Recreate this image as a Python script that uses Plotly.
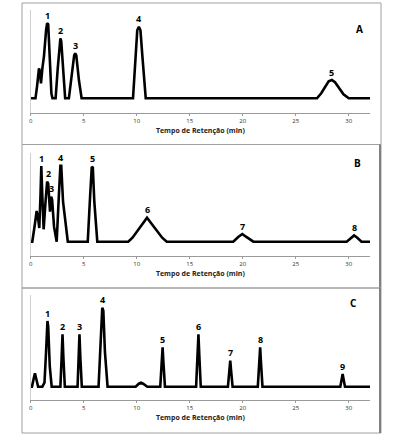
import plotly.graph_objects as go

# ---------------- data (retention time in min, signal in arbitrary units) -------------
a_time = [0, 0.45, 0.6, 0.78, 0.86, 0.97, 1.1, 1.25, 1.45, 1.55, 1.65, 1.8, 1.95, 2.05,
          2.35, 2.55, 2.72, 2.8, 2.88, 3.05, 3.25,
          3.6, 3.85, 4.1, 4.2, 4.3, 4.55, 4.8,
          9.65, 9.85, 10.05, 10.2, 10.35, 10.55, 10.85,
          27.0, 27.4, 28.1, 28.4, 28.7, 29.2, 29.5, 30.0, 32.0]
a_signal = [0, 0, 12, 30, 27, 15, 30, 42, 68, 75, 74, 40, 5, 0,
            0, 30, 58, 60, 57, 28, 0,
            0, 20, 43, 45, 43, 18, 0,
            0, 40, 68, 71.6, 68, 40, 0,
            0, 5, 17, 18.3, 16, 8, 4, 0, 0]
a_peaks_rt = [1.6, 2.8, 4.2, 10.2, 28.4]
a_peaks_h = [75, 60, 45, 71.6, 18.3]
a_labels = ["1", "2", "3", "4", "5"]

b_time = [0, 0.15, 0.4, 0.56, 0.68, 0.81, 0.92, 1.0, 1.1, 1.22, 1.4, 1.55, 1.65, 1.82, 1.93, 2.02,
          2.2, 2.45, 2.65, 2.8, 2.88, 3.05, 3.5, 5.38, 5.6, 5.76, 5.86, 6.0, 6.28,
          9.2, 9.6, 10.5, 10.97, 11.4, 12.4, 12.83, 19.1, 19.6, 19.96, 20.3, 21.0,
          29.8, 30.2, 30.5, 30.8, 31.2, 32.0]
b_signal = [0, 0, 18, 30.7, 25, 13.7, 45, 75.7, 45, 12.4, 40, 60, 58, 30, 45, 42,
            15, 0, 45, 76, 76, 40, 0, 0, 45, 75, 74, 40, 0,
            0, 4, 17, 24, 18, 4, 0, 0, 5, 7.7, 5, 0,
            0, 4, 6.3, 4, 0, 0]
b_peaks_rt = [1.0, 1.65, 2.0, 2.84, 5.81, 10.97, 19.96, 30.5]
b_peaks_h = [75.7, 60, 45, 76.7, 75, 24, 7.7, 6.3]
b_labels = ["1", "2", "3", "4", "5", "6", "7", "8"]

c_time = [0, 0.12, 0.3, 0.4, 0.5, 0.7, 1.1, 1.3, 1.45, 1.58, 1.65, 1.8, 1.98, 2.8, 2.92, 3.0, 3.08, 3.22,
          4.42, 4.54, 4.6, 4.68, 4.82, 6.4, 6.6, 6.75, 6.85, 7.0, 7.25,
          9.9, 10.2, 10.4, 10.6, 11.0, 12.22, 12.36, 12.44, 12.52, 12.66,
          15.6, 15.74, 15.82, 15.9, 16.04, 18.6, 18.74, 18.82, 18.9, 19.04,
          21.42, 21.56, 21.64, 21.72, 21.86, 29.2, 29.34, 29.42, 29.5, 29.64, 32.0]
c_signal = [0, 0, 9, 13.3, 9, 0, 0, 4, 35, 65.7, 60, 20, 0, 0, 30, 52.3, 30, 0,
            0, 30, 52.3, 30, 0, 0, 45, 79, 76, 35, 0,
            0, 3, 4, 3, 0, 0, 24, 39.3, 24, 0,
            0, 32, 52.3, 32, 0, 0, 16, 26, 16, 0,
            0, 24, 39.3, 24, 0, 0, 8, 12.7, 8, 0, 0]
c_peaks_rt = [1.6, 3.0, 4.6, 6.8, 12.44, 15.82, 18.82, 21.64, 29.42]
c_peaks_h = [65.7, 52.3, 52.3, 79, 39.3, 52.3, 26, 39.3, 12.7]
c_labels = ["1", "2", "3", "4", "5", "6", "7", "8", "9"]

panel_names = ["A", "B", "C"]
x_ticks = [0, 5, 10, 15, 20, 25, 30]
x_title = "Tempo de Retenção (min)"

# ---------------- layout helpers ----------------
W, H = 393, 437
def px(x):
    return x / W
def py(y):
    return 1 - y / H

fig = go.Figure()

panels = [
    dict(t=a_time, s=a_signal, rt=a_peaks_rt, h=a_peaks_h, lab=a_labels,
         top=10, bot=113, base=98.3, box=(22, 3, 381, 144.5), name_pos=(365, 20)),
    dict(t=b_time, s=b_signal, rt=b_peaks_rt, h=b_peaks_h, lab=b_labels,
         top=152.7, bot=256, base=241.7, box=(22, 144.5, 381, 288), name_pos=(363, 163)),
    dict(t=c_time, s=c_signal, rt=c_peaks_rt, h=c_peaks_h, lab=c_labels,
         top=295, bot=400, base=386.7, box=(22, 288, 381, 433), name_pos=(359, 312)),
]

x_left, x_right = 30.7, 370.0
annotations = []
shapes = []
for i, p in enumerate(panels):
    n = "" if i == 0 else str(i + 1)
    xa, ya = "x" + n, "y" + n
    fig.add_trace(go.Scatter(x=p["t"], y=p["s"], mode="lines",
                             line=dict(color="black", width=2.6, shape="linear"),
                             xaxis=xa, yaxis=ya, showlegend=False, hoverinfo="skip"))
    ymin = -(p["bot"] - p["base"])
    ymax = p["base"] - p["top"]
    fig.layout["xaxis" + n] = dict(
        domain=[px(x_left), px(x_right)], range=[0, 32], anchor=ya, automargin=False,
        tickvals=x_ticks, ticktext=[str(v) for v in x_ticks],
        showline=True, linecolor="#9a9a9a", linewidth=1,
        ticks="outside", ticklen=2, tickcolor="#9a9a9a",
        showgrid=False, zeroline=False,
        tickfont=dict(family="Open Sans", size=6, color="#333333"),
        title=dict(text="<b>" + x_title + "</b>", standoff=3,
                   font=dict(family="Open Sans", size=7, color="#222222")),
    )
    fig.layout["yaxis" + n] = dict(
        domain=[py(p["bot"]), py(p["top"])], range=[ymin, ymax], anchor=xa, automargin=False,
        showline=True, linecolor="#d0d0d0", linewidth=1,
        showticklabels=False, ticks="", showgrid=False, zeroline=False,
    )
    for rt, h, lab in zip(p["rt"], p["h"], p["lab"]):
        annotations.append(dict(x=rt, y=h, xref=xa, yref=ya, text="<b>" + lab + "</b>",
                                showarrow=False, yshift=8,
                                font=dict(family="Open Sans", size=9, color="black")))
    annotations.append(dict(x=px(p["name_pos"][0]), y=py(p["name_pos"][1]), xref="paper", yref="paper",
                            text="<b>" + panel_names[i] + "</b>", showarrow=False,
                            font=dict(family="Open Sans", size=10, color="black")))
    x0, y0, x1, y1 = p["box"]
    shapes.append(dict(type="rect", xref="paper", yref="paper",
                       x0=px(x0), x1=px(x1), y0=py(y1), y1=py(y0),
                       line=dict(color="#a0a0a0", width=1)))
    if i > 0:
        shapes.append(dict(type="line", xref="paper", yref="paper",
                           x0=px(x1 - 1), x1=px(x1 - 1), y0=py(y1), y1=py(y0),
                           line=dict(color="#808080", width=2)))

fig.update_layout(width=W, height=H, margin=dict(l=0, r=0, t=0, b=0),
                  paper_bgcolor="white", plot_bgcolor="white",
                  annotations=annotations, shapes=shapes)

fig.write_html("out.html", config={"displayModeBar": False},
               post_script="document.body.style.margin='0';")
